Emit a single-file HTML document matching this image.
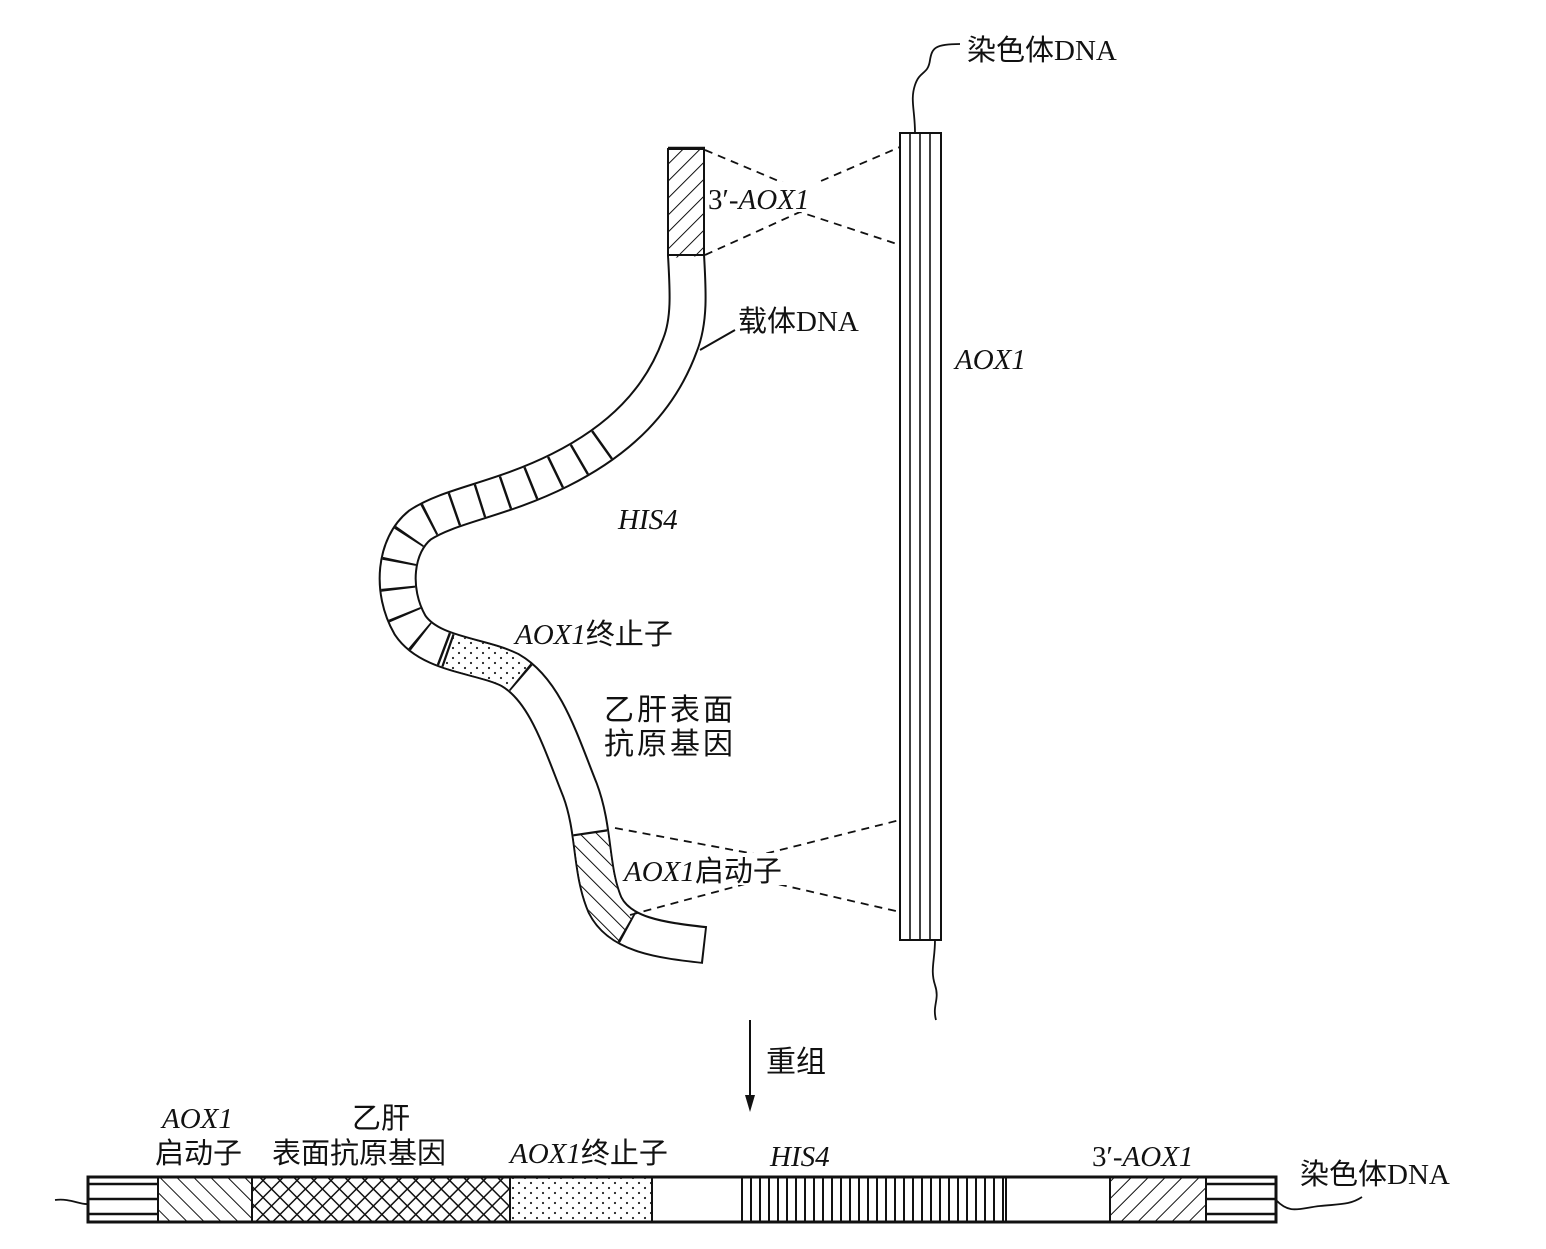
<!DOCTYPE html>
<html><head><meta charset="utf-8"><style>
body{margin:0;background:#fff}
svg{display:block}
text{font-family:"Liberation Serif","Noto Serif CJK SC",serif;fill:#111}
.cn{font-family:"Liberation Serif","Noto Sans CJK SC",sans-serif}
.it{font-style:italic}
</style></head><body>
<svg width="1546" height="1249" viewBox="0 0 1546 1249" xmlns="http://www.w3.org/2000/svg">
<defs>
<pattern id="fw" width="12" height="12" patternUnits="userSpaceOnUse" patternTransform="rotate(45)"><rect width="12" height="12" fill="#fff"/><line x1="0" y1="0" x2="0" y2="12" stroke="#111" stroke-width="2"/></pattern>
<pattern id="bw" width="12" height="12" patternUnits="userSpaceOnUse" patternTransform="rotate(-45)"><rect width="12" height="12" fill="#fff"/><line x1="0" y1="0" x2="0" y2="12" stroke="#111" stroke-width="2"/></pattern>
<pattern id="cross" width="12" height="12" patternUnits="userSpaceOnUse" patternTransform="rotate(45)"><rect width="12" height="12" fill="#fff"/><line x1="0" y1="0" x2="0" y2="12" stroke="#111" stroke-width="3"/><line x1="0" y1="0" x2="12" y2="0" stroke="#111" stroke-width="3"/></pattern>
<pattern id="dots" width="12" height="10" patternUnits="userSpaceOnUse"><rect width="12" height="10" fill="#fff"/><circle cx="3" cy="3" r="1.1" fill="#222"/><circle cx="9" cy="8" r="1.1" fill="#222"/></pattern>
<pattern id="vl" width="9" height="10" patternUnits="userSpaceOnUse"><rect width="9" height="10" fill="#fff"/><line x1="4" y1="0" x2="4" y2="10" stroke="#111" stroke-width="2"/></pattern>
<pattern id="hl" width="10" height="15" patternUnits="userSpaceOnUse" y="1177"><rect width="10" height="15" fill="#fff"/><line x1="0" y1="7" x2="10" y2="7" stroke="#111" stroke-width="2.5"/></pattern>
<path id="p" pathLength="1000" d="M686,150 L686,255 C688,290 690,320 680,345 C660,400 620,440 560,470 C500,500 450,505 420,525 C395,545 390,590 410,625 C430,655 480,655 510,670 C545,690 560,740 580,790 C595,830 590,870 605,905 C620,935 660,940 703,945"/>
<mask id="hm" maskUnits="userSpaceOnUse" x="0" y="0" width="1546" height="1249">
<use href="#p" fill="none" stroke="#fff" stroke-width="40" stroke-dasharray="0 280 330 2000"/>
</mask>
</defs>

<!-- ribbon -->
<g fill="none">
<path d="M686,148 L686,255 C688,290 690,320 680,345 C660,400 620,440 560,470 C500,500 450,505 420,525 C395,545 390,590 410,625 C430,655 480,655 510,670 C545,690 560,740 580,790 C595,830 590,870 605,905 C620,935 660,940 705,945" stroke="#111" stroke-width="38"/>
<use href="#p" stroke="#fff" stroke-width="34"/>
<use href="#p" stroke="url(#fw)" stroke-width="34" stroke-dasharray="0 0 96 2000"/>
<use href="#p" stroke="#111" stroke-width="34" stroke-dasharray="2.2 22" mask="url(#hm)"/>
<use href="#p" stroke="url(#dots)" stroke-width="34" stroke-dasharray="0 610 70 2000"/>
<use href="#p" stroke="#111" stroke-width="34" stroke-dasharray="0 609 2 2000"/>
<use href="#p" stroke="#111" stroke-width="34" stroke-dasharray="0 679 2 2000"/>
<use href="#p" stroke="url(#bw)" stroke-width="34" stroke-dasharray="0 835 95 2000"/>
<use href="#p" stroke="#111" stroke-width="34" stroke-dasharray="0 834 2 2000"/>
<use href="#p" stroke="#111" stroke-width="34" stroke-dasharray="0 929 2 2000"/>
<line x1="668" y1="148" x2="705" y2="148" stroke="#111" stroke-width="2.5"/>
<line x1="668" y1="255" x2="705" y2="255" stroke="#111" stroke-width="2"/>
<line x1="700" y1="350" x2="735" y2="330" stroke="#111" stroke-width="2"/>
</g>

<!-- dashed -->
<g stroke="#111" stroke-width="1.8" stroke-dasharray="8 6" fill="none">
<polyline points="705,150 800,190 900,147"/>
<polyline points="705,255 800,212 900,245"/>
<polyline points="615,828 760,855 900,820"/>
<polyline points="630,915 760,880 900,912"/>
</g>

<!-- chromosome -->
<rect x="900" y="133" width="41" height="807" fill="#fff" stroke="#111" stroke-width="2"/>
<g stroke="#111" stroke-width="1.6"><line x1="910" y1="133" x2="910" y2="940"/><line x1="920" y1="133" x2="920" y2="940"/><line x1="930" y1="133" x2="930" y2="940"/></g>
<path d="M915,133 C915,110 910,100 915,85 C920,70 928,75 930,60 C932,48 935,44 960,44" fill="none" stroke="#111" stroke-width="1.8"/>
<path d="M935,940 C935,960 930,970 935,985 C940,1000 932,1005 936,1020" fill="none" stroke="#111" stroke-width="1.8"/>

<!-- labels top -->
<rect x="706" y="182" width="130" height="30" fill="#fff"/>
<text x="708" y="209" font-size="29">3′-<tspan class="it">AOX1</tspan></text>
<text x="967" y="60" font-size="29" class="cn">染色体DNA</text>
<text x="738" y="331" font-size="29" class="cn">载体DNA</text>
<text x="955" y="369" font-size="29" class="it">AOX1</text>
<text x="618" y="529" font-size="29" class="it">HIS4</text>
<text x="515" y="644" font-size="29" class="cn"><tspan class="it">AOX1</tspan>终止子</text>
<text x="604" y="720" font-size="30" class="cn" letter-spacing="3">乙肝表面</text>
<text x="604" y="754" font-size="30" class="cn" letter-spacing="3">抗原基因</text>
<rect x="622" y="853" width="195" height="32" fill="#fff"/>
<text x="624" y="881" font-size="29" class="cn"><tspan class="it">AOX1</tspan>启动子</text>

<!-- arrow -->
<line x1="750" y1="1020" x2="750" y2="1100" stroke="#111" stroke-width="2"/>
<polygon points="745,1095 755,1095 750,1112" fill="#111"/>
<text x="766" y="1072" font-size="30" class="cn">重组</text>

<!-- bottom labels -->
<text x="162" y="1128" font-size="29" class="it">AOX1</text>
<text x="155" y="1163" font-size="29" class="cn">启动子</text>
<text x="352" y="1128" font-size="29" class="cn">乙肝</text>
<text x="272" y="1163" font-size="29" class="cn">表面抗原基因</text>
<text x="510" y="1163" font-size="29" class="cn"><tspan class="it">AOX1</tspan>终止子</text>
<text x="770" y="1166" font-size="29" class="it">HIS4</text>
<text x="1092" y="1166" font-size="29">3′-<tspan class="it">AOX1</tspan></text>
<text x="1300" y="1184" font-size="29" class="cn">染色体DNA</text>

<!-- bottom bar -->
<path d="M55,1200 C70,1198 80,1205 88,1204" fill="none" stroke="#111" stroke-width="1.8"/>
<path d="M1276,1200 C1290,1215 1300,1208 1320,1206 C1340,1204 1350,1205 1362,1197" fill="none" stroke="#111" stroke-width="1.8"/>
<rect x="88" y="1177" width="70" height="45" fill="url(#hl)"/>
<rect x="158" y="1177" width="94" height="45" fill="url(#bw)"/>
<rect x="252" y="1177" width="258" height="45" fill="url(#cross)"/>
<rect x="510" y="1177" width="142" height="45" fill="url(#dots)"/>
<rect x="652" y="1177" width="90" height="45" fill="#fff"/>
<rect x="742" y="1177" width="264" height="45" fill="url(#vl)"/>
<rect x="1006" y="1177" width="104" height="45" fill="#fff"/>
<rect x="1110" y="1177" width="96" height="45" fill="url(#fw)"/>
<rect x="1206" y="1177" width="70" height="45" fill="url(#hl)"/>
<rect x="88" y="1177" width="1188" height="45" fill="none" stroke="#111" stroke-width="3"/>
<g stroke="#111" stroke-width="2"><line x1="158" y1="1177" x2="158" y2="1222"/><line x1="252" y1="1177" x2="252" y2="1222"/><line x1="510" y1="1177" x2="510" y2="1222"/><line x1="652" y1="1177" x2="652" y2="1222"/><line x1="742" y1="1177" x2="742" y2="1222"/><line x1="1006" y1="1177" x2="1006" y2="1222"/><line x1="1110" y1="1177" x2="1110" y2="1222"/><line x1="1206" y1="1177" x2="1206" y2="1222"/></g>
</svg>
</body></html>
